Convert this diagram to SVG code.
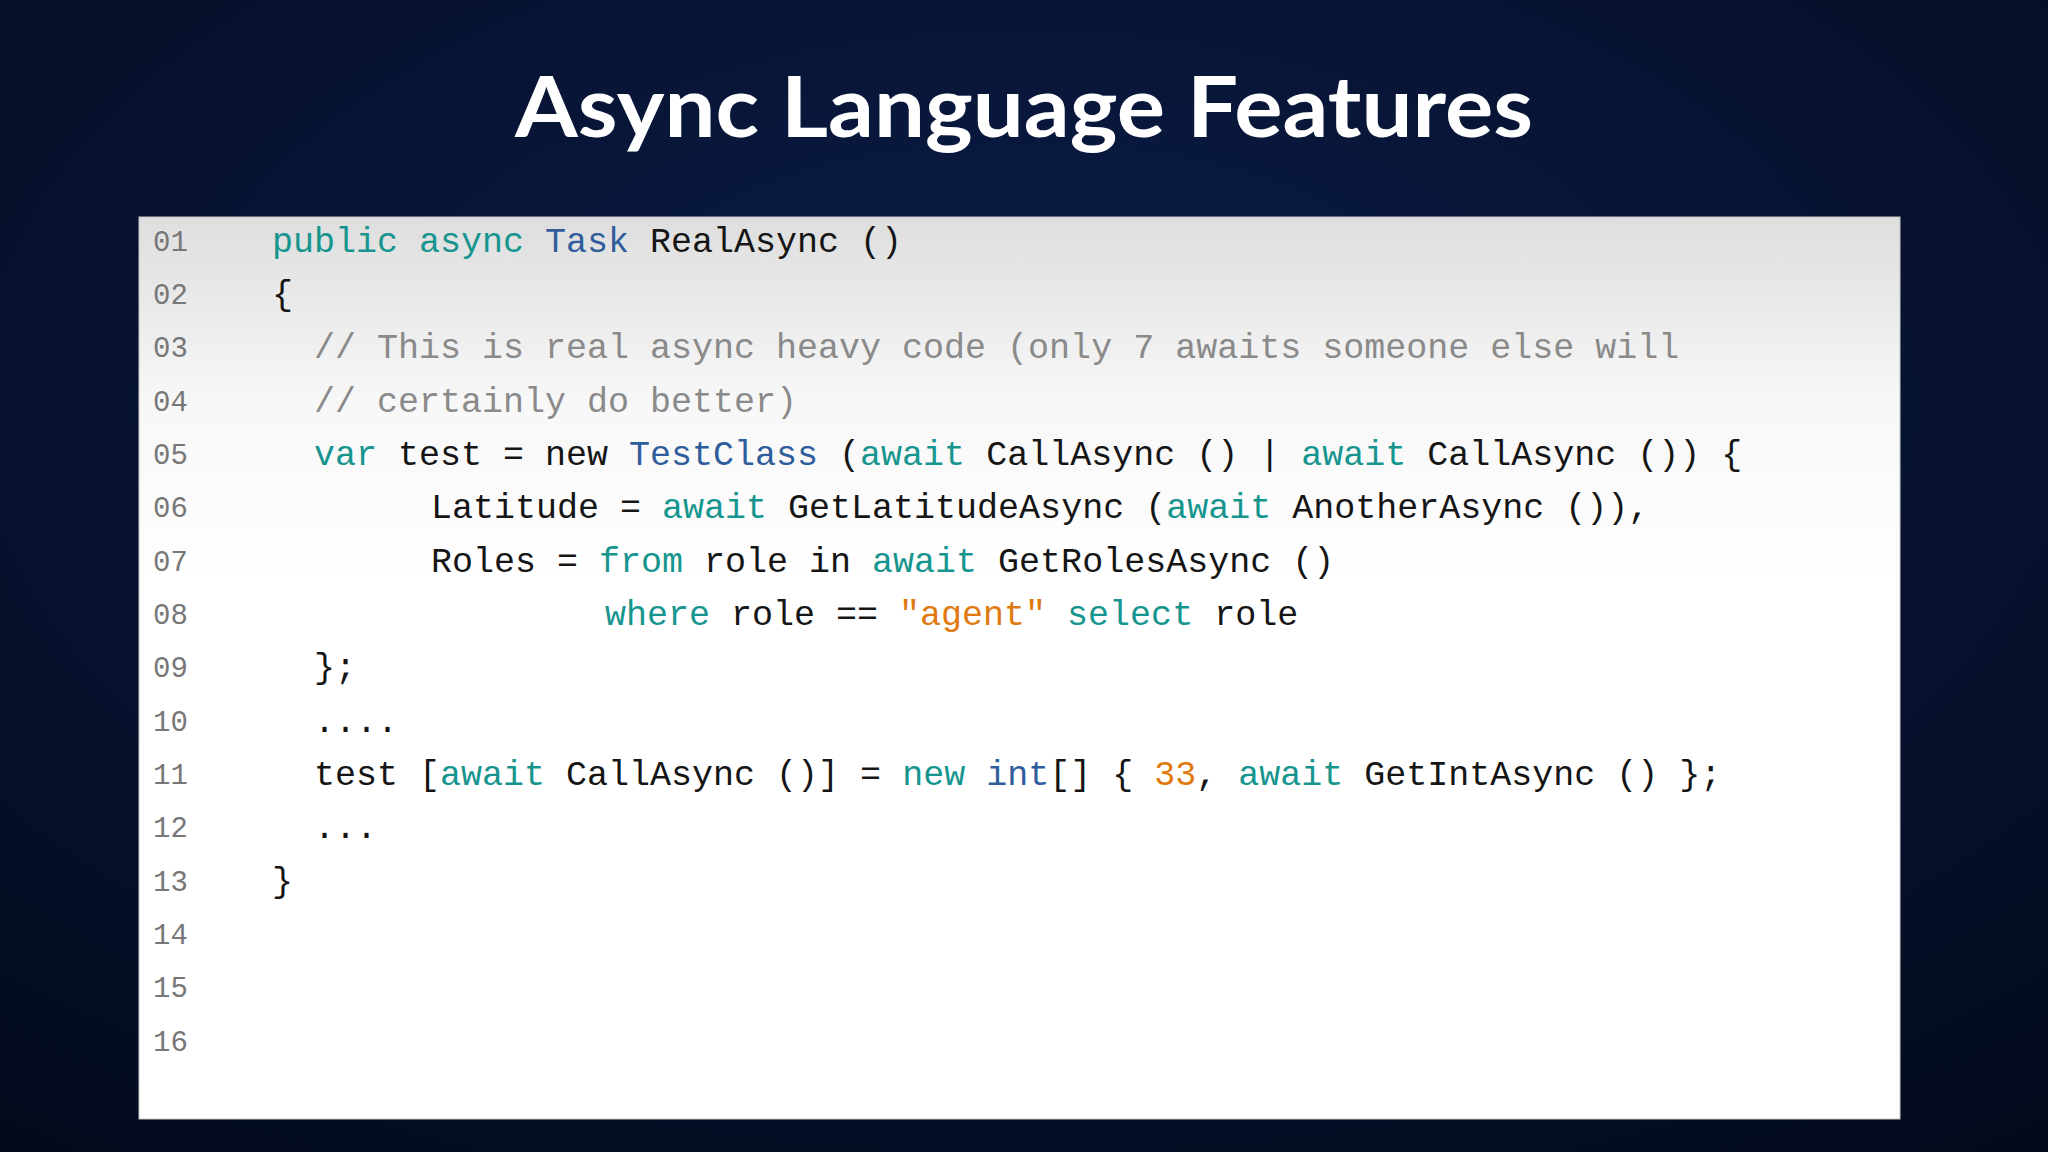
<svg xmlns="http://www.w3.org/2000/svg" width="2048" height="1152" viewBox="0 0 2048 1152">
<defs>
<radialGradient id="bg" cx="0.5" cy="0.35" r="0.8">
<stop offset="0" stop-color="#0b1d4a"/><stop offset="1" stop-color="#030a1c"/>
</radialGradient>
<linearGradient id="panel" x1="0" y1="0" x2="0" y2="1">
<stop offset="0" stop-color="#dedede"/><stop offset="0.2" stop-color="#f7f7f7"/><stop offset="0.4" stop-color="#ffffff"/>
</linearGradient>
<style>
.code{font-family:"Liberation Mono","DejaVu Sans Mono",monospace;font-size:35px;fill:#151515}
.ln{font-family:"Liberation Mono","DejaVu Sans Mono",monospace;font-size:29px;fill:#777}
.k{fill:#16958f}.t{fill:#2f5d9c}.c{fill:#8a8a8a}.s{fill:#e07a10}
</style>
</defs>
<rect width="2048" height="1152" fill="url(#bg)"/>
<g id="title"><text x="1024" y="137" text-anchor="middle" font-family="Lato,'Open Sans',sans-serif" font-weight="bold" font-size="84" fill="#ffffff" textLength="1018" lengthAdjust="spacingAndGlyphs">Async Language Features</text></g>
<g id="panel">
<rect x="139" y="217" width="1761" height="902" fill="url(#panel)" stroke="#c8c8c8" stroke-width="1"/>
<g class="ln">
<text x="153" y="251">01</text><text x="153" y="304">02</text><text x="153" y="357">03</text><text x="153" y="411">04</text>
<text x="153" y="464">05</text><text x="153" y="517">06</text><text x="153" y="571">07</text><text x="153" y="624">08</text>
<text x="153" y="677">09</text><text x="153" y="731">10</text><text x="153" y="784">11</text><text x="153" y="837">12</text>
<text x="153" y="891">13</text><text x="153" y="944">14</text><text x="153" y="997">15</text><text x="153" y="1051">16</text>
</g>
<g class="code" xml:space="preserve">
<text x="272" y="252"><tspan class="k">public async</tspan> <tspan class="t">Task</tspan> RealAsync ()</text>
<text x="272" y="305">{</text>
<text x="314" y="358" class="c">// This is real async heavy code (only 7 awaits someone else will</text>
<text x="314" y="412" class="c">// certainly do better)</text>
<text x="314" y="465"><tspan class="k">var</tspan> test = new <tspan class="t">TestClass</tspan> (<tspan class="k">await</tspan> CallAsync () | <tspan class="k">await</tspan> CallAsync ()) {</text>
<text x="431" y="518">Latitude = <tspan class="k">await</tspan> GetLatitudeAsync (<tspan class="k">await</tspan> AnotherAsync ()),</text>
<text x="431" y="572">Roles = <tspan class="k">from</tspan> role in <tspan class="k">await</tspan> GetRolesAsync ()</text>
<text x="605" y="625"><tspan class="k">where</tspan> role == <tspan class="s">"agent"</tspan> <tspan class="k">select</tspan> role</text>
<text x="314" y="678">};</text>
<text x="314" y="732">....</text>
<text x="314" y="785">test [<tspan class="k">await</tspan> CallAsync ()] = <tspan class="k">new</tspan> <tspan class="t">int</tspan>[] { <tspan class="s">33</tspan>, <tspan class="k">await</tspan> GetIntAsync () };</text>
<text x="314" y="838">...</text>
<text x="272" y="892">}</text>
</g>
</g>
</svg>
